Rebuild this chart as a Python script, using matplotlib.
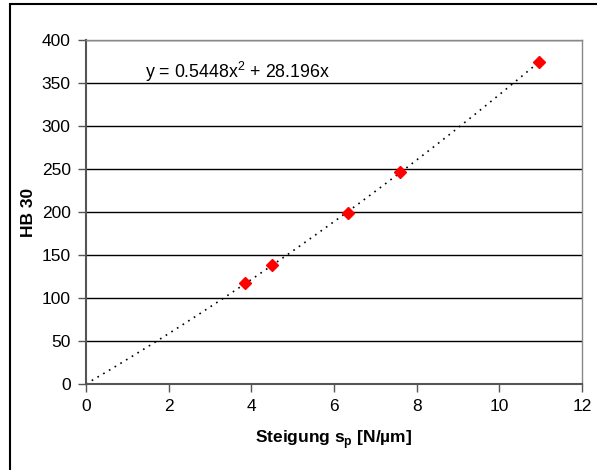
import numpy as np
import matplotlib
matplotlib.use('Agg')
import matplotlib.pyplot as plt
from matplotlib.patches import Rectangle

plt.rcParams['font.family'] = ['Liberation Sans', 'DejaVu Sans']

# Messwerte
steigung = [3.85, 4.5, 6.35, 7.6, 10.97]
hb30 = [118, 138, 199, 247, 374]
# Trendlinie (Polynom 2. Grades, durch Null)
koeff = [0.5448, 28.196, 0.0]
x_ticks = [0, 2, 4, 6, 8, 10, 12]
y_ticks = [0, 50, 100, 150, 200, 250, 300, 350, 400]

fig = plt.figure(figsize=(5.97, 4.7), dpi=100)
ax = fig.add_axes([86 / 597, 1 - 384 / 470, (582 - 86) / 597, (384 - 40) / 470])

# Rahmen um das Diagramm
fig.patches.append(Rectangle((10 / 597, -0.1), 1.2, 1 - 4 / 470 + 0.1,
                             transform=fig.transFigure, fill=False,
                             edgecolor='black', linewidth=1.5))

xt = np.linspace(0, 11, 200)
ax.plot(xt, np.polyval(koeff, xt), color='black', linestyle=(0, (1, 3)),
        linewidth=1.2, zorder=2)
ax.plot(steigung, hb30, linestyle='none', marker='D', markersize=6.5,
        color='red', zorder=3)

ax.set_xlim(0, 12)
ax.set_ylim(0, 400)
ax.set_xticks(x_ticks)
ax.set_yticks(y_ticks)
ax.yaxis.grid(True, color='black', linewidth=1)
ax.set_axisbelow(True)

for s in ['top', 'right']:
    ax.spines[s].set_color('#888888')
    ax.spines[s].set_linewidth(1)
for s in ['left', 'bottom']:
    ax.spines[s].set_color('#555555')
    ax.spines[s].set_linewidth(1.5)
ax.tick_params(direction='out', length=6, width=1, color='#555555',
               labelsize=12.5, pad=5)

ax.set_xlabel('Steigung s$_\\mathregular{p}$ [N/µm]', fontsize=12.5,
              fontweight='bold', labelpad=10)
ax.set_ylabel('HB 30', fontsize=12.5, fontweight='bold', labelpad=4)

ax.text(1.43, 363, 'y = 0.5448x$^\\mathregular{2}$ + 28.196x', fontsize=12.8,
        va='center', ha='left')

fig.savefig('out.png', dpi=100)
